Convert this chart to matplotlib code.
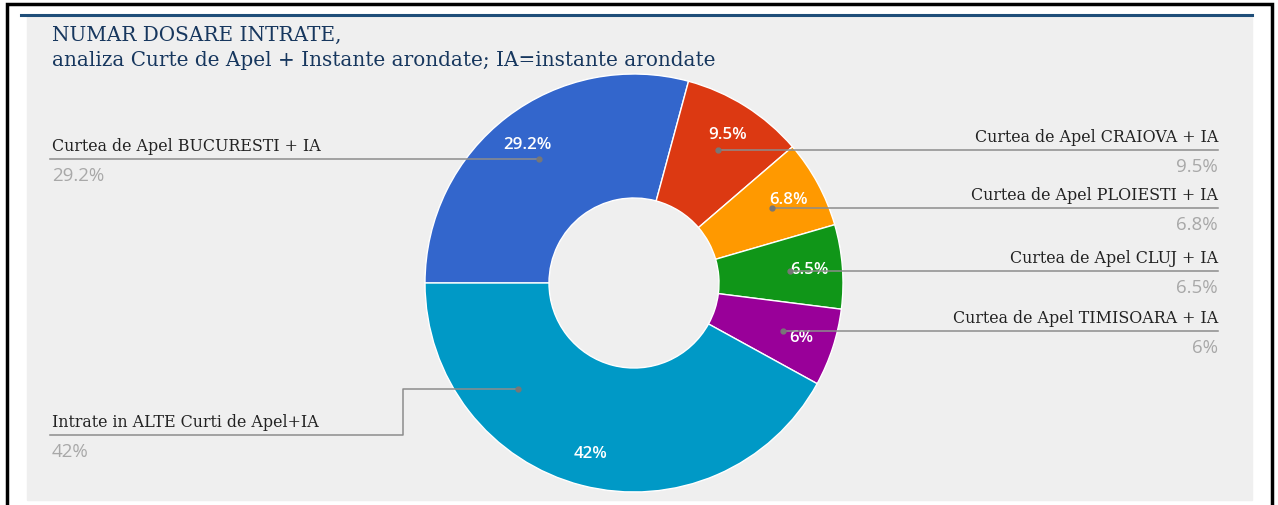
import numpy as np
import matplotlib
matplotlib.use("Agg")
import matplotlib.pyplot as plt
from matplotlib.patches import Rectangle

# date
labels = ["Curtea de Apel BUCURESTI + IA", "Curtea de Apel CRAIOVA + IA",
          "Curtea de Apel PLOIESTI + IA", "Curtea de Apel CLUJ + IA",
          "Curtea de Apel TIMISOARA + IA", "Intrate in ALTE Curti de Apel+IA"]
values = [29.2, 9.5, 6.8, 6.5, 6, 42]
colors = ["#3366cc", "#dc3912", "#ff9900", "#109618", "#990099", "#0099c6"]
sides = ["left", "right", "right", "right", "right", "left"]

title_lines = ["NUMAR DOSARE INTRATE,",
               "analiza Curte de Apel + Instante arondate; IA=instante arondate"]

W, H = 1278, 506
CX, CY, R = 634, 284, 209

def Y(y):
    # coordonate pixel (de sus in jos) -> coordonate axa
    return H - y

fig = plt.figure(figsize=(W / 100, H / 100), dpi=100)
ax = fig.add_axes([0, 0, 1, 1])

# cadru
ax.add_patch(Rectangle((27, Y(501)), 1252 - 27, 501 - 17, color="#efefef", zorder=0))
ax.plot([21, 1252], [Y(16), Y(16)], color="#1f4e79", lw=2.2, zorder=1)
ax.plot([7, 7, 1272, 1272], [0, Y(5), Y(5), 0], color="black", lw=2.5, zorder=1,
        solid_joinstyle="miter")

wedges, _, autotexts = ax.pie(
    values, colors=colors, startangle=180, counterclock=False,
    center=(CX, Y(CY)), radius=R, autopct=lambda p: f"{p:.3g}%",
    pctdistance=0.84, wedgeprops=dict(width=R - 85, edgecolor="white", linewidth=1),
    textprops=dict(color="white", fontsize=12.2, family="Open Sans", weight="semibold"))
for t, v in zip(autotexts, values):
    t.set_text(f"{v:g}%")

ax.set_xlim(0, W)
ax.set_ylim(0, H)
ax.set_aspect("auto")
ax.axis("off")

serif = "DejaVu Serif"
line_col = "#8c8c8c"
for i, w in enumerate(wedges):
    t1, t2 = w.theta1, w.theta2
    # pentru felia mare, punctul de legatura nu e la mijloc
    frac = 0.28 if i == len(wedges) - 1 else 0.5
    ang = np.deg2rad(t1 + (t2 - t1) * frac)
    dx = CX + 0.75 * R * np.cos(ang)
    dy = Y(CY) + 0.75 * R * np.sin(ang)
    ax.plot(dx, dy, "o", ms=3.5, color="#777777", zorder=5)
    if sides[i] == "right":
        ly = dy
        ax.plot([dx, 1218], [ly, ly], color=line_col, lw=1.1, zorder=4)
        ax.text(1218, ly + 5, labels[i], ha="right", va="bottom", fontsize=11.4,
                family=serif, color="#222222")
        ax.text(1218, ly - 7, f"{values[i]:g}%", ha="right", va="top", fontsize=13.5,
                family="Open Sans", color="#a8a8a8")
    else:
        if i == len(wedges) - 1:
            ly = Y(436)
            ax.plot([dx, 403, 403, 50], [dy, dy, ly, ly], color=line_col, lw=1.1, zorder=4)
        else:
            ly = dy
            ax.plot([dx, 50], [ly, ly], color=line_col, lw=1.1, zorder=4)
        ax.text(52, ly + 5, labels[i], ha="left", va="bottom", fontsize=11.4,
                family=serif, color="#222222")
        ax.text(52, ly - 7, f"{values[i]:g}%", ha="left", va="top", fontsize=13.5,
                family="Open Sans", color="#a8a8a8")

ax.text(52, Y(35), title_lines[0], ha="left", va="center", fontsize=14.4,
        family=serif, color="#17375e")
ax.text(52, Y(60), title_lines[1], ha="left", va="center", fontsize=14.4,
        family=serif, color="#17375e")

fig.savefig("out.png", dpi=100, facecolor="white")
